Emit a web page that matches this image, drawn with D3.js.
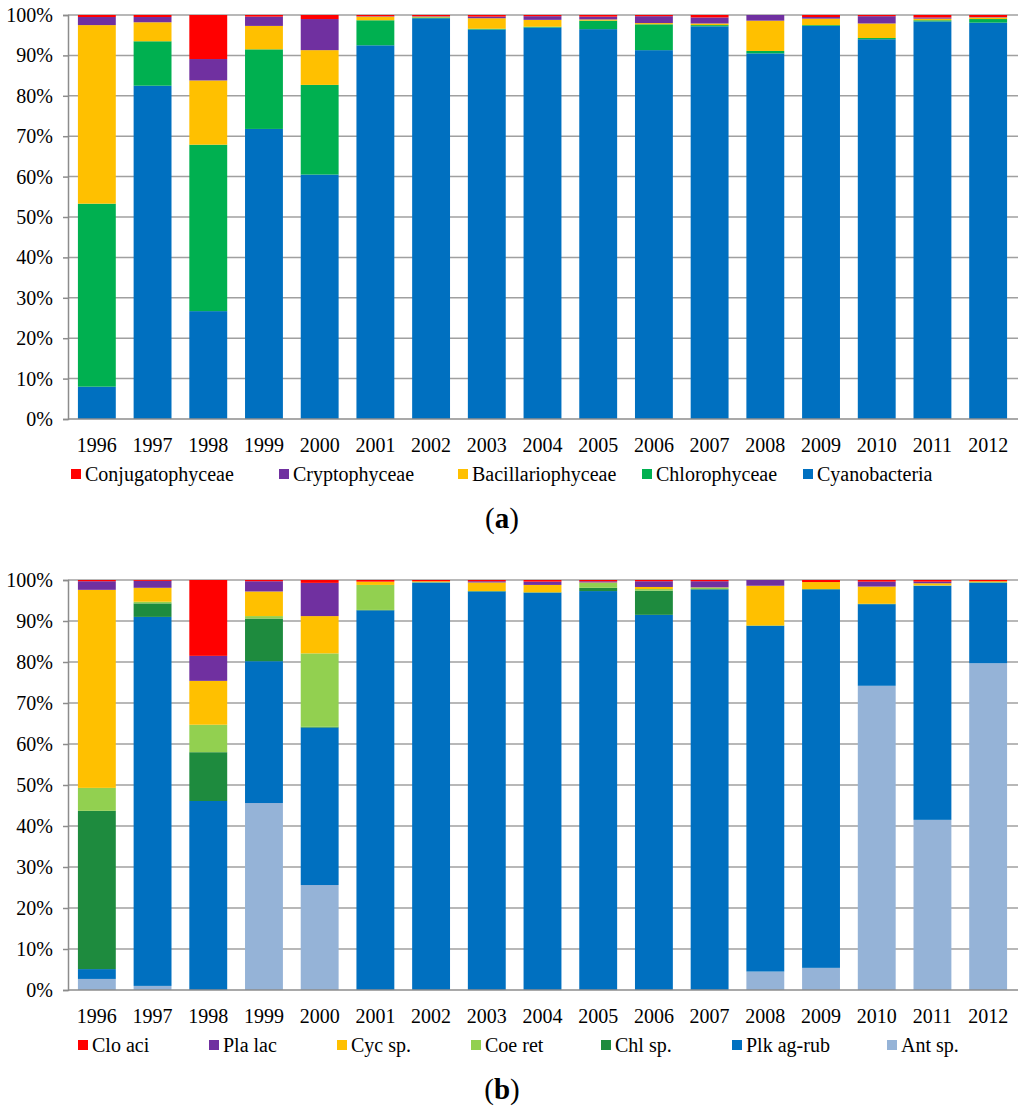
<!DOCTYPE html>
<html>
<head>
<meta charset="utf-8">
<script src="https://cdn.jsdelivr.net/npm/d3@7/dist/d3.min.js"></script>
</head>
<body style="margin:0; background:#fff">
<div id="chart"></div>
<script>
var WD = 1024, HT = 1107
var FONT = "'Liberation Serif'"

var years = ['1996','1997','1998','1999','2000','2001','2002','2003','2004','2005','2006','2007','2008','2009','2010','2011','2012']
var yTicks = [0, 0.1, 0.2, 0.3, 0.4, 0.5, 0.6, 0.7, 0.8, 0.9, 1]

// panel (a): classes, bottom to top
var cyanoA  = [8.0, 82.5, 26.7, 71.8, 60.5, 92.5, 99.2, 96.4, 96.9, 96.5, 91.3, 97.2, 90.5, 97.3, 94.0, 98.4, 98.1]
var chloroA = [45.3, 11.0, 41.2, 19.7, 22.2, 6.2, 0.2, 0.2, 0.2, 2.1, 6.4, 0.3, 0.6, 0.2, 0.3, 0.3, 0.9]
var bacilA  = [44.2, 4.7, 15.9, 5.8, 8.6, 0.9, 0.2, 2.6, 1.7, 0.3, 0.3, 0.4, 7.5, 1.6, 3.6, 0.4, 0.4]
var cryptA  = [2.0, 1.3, 5.3, 2.3, 7.7, 0.1, 0.1, 0.4, 0.9, 0.7, 1.7, 1.5, 1.4, 0.4, 1.8, 0.3, 0.1]
var conjA   = [0.5, 0.5, 10.9, 0.4, 1.0, 0.3, 0.3, 0.4, 0.3, 0.4, 0.3, 0.6, 0.0, 0.5, 0.3, 0.6, 0.5]
var namesA  = ['Cyanobacteria','Chlorophyceae','Bacillariophyceae','Cryptophyceae','Conjugatophyceae']
var colorsA = ['#0070C0','#00B050','#FFC000','#7030A0','#FF0000']

// panel (b): species, bottom to top
var antB = [2.7, 1.0, 0.0, 45.6, 25.6, 0.0, 0.0, 0.0, 0.0, 0.0, 0.0, 0.0, 4.5, 5.4, 74.2, 41.5, 79.7]
var plkB = [2.4, 90.0, 46.1, 34.6, 38.4, 92.6, 99.4, 97.2, 96.9, 97.3, 91.5, 97.7, 84.3, 92.3, 19.9, 57.1, 19.6]
var chlB = [38.6, 3.3, 11.9, 10.4, 0.2, 0.1, 0.0, 0.1, 0.1, 0.8, 5.9, 0.1, 0.1, 0.1, 0.1, 0.0, 0.1]
var coeB = [5.6, 0.4, 6.7, 0.6, 17.9, 6.1, 0.1, 0.0, 0.0, 1.2, 0.4, 0.3, 0.0, 0.0, 0.0, 0.1, 0.1]
var cycB = [48.3, 3.4, 10.7, 6.0, 9.1, 0.8, 0.2, 2.1, 1.8, 0.1, 0.5, 0.1, 9.7, 1.7, 4.2, 0.5, 0.2]
var plaB = [2.1, 1.7, 6.1, 2.5, 8.1, 0.0, 0.0, 0.3, 0.8, 0.3, 1.4, 1.5, 1.4, 0.0, 1.2, 0.4, 0.0]
var cloB = [0.3, 0.2, 18.5, 0.3, 0.7, 0.4, 0.3, 0.3, 0.4, 0.3, 0.3, 0.3, 0.0, 0.5, 0.4, 0.4, 0.3]
var namesB  = ['Ant sp.','Plk ag-rub','Chl sp.','Coe ret','Cyc sp.','Pla lac','Clo aci']
var colorsB = ['#95B3D7','#0070C0','#1E8B3E','#92D050','#FFC000','#7030A0','#FF0000']

var svg = d3.select("#chart").append("svg")
    .attr("width", WD)
    .attr("height", HT)

var x = d3.scaleBand().domain(years).range([69, 1016]).paddingInner(0.32).paddingOuter(0.16)

function drawPanel(series, names, colors, top, bottom, legendX, label) {
    var rows = years.map(function(yr, i){
        var r = { year: yr }
        names.forEach(function(n, k){ r[n] = series[k][i] })
        return r
    })
    var stack = d3.stack().keys(names).offset(d3.stackOffsetExpand)
    var layers = stack(rows)

    var y = d3.scaleLinear().domain([0, 1]).range([bottom, top])
    var g = svg.append("g")

    // gridlines
    g.selectAll(".grid")
      .data(yTicks.slice(1))
      .enter()
      .append("line")
        .attr("x1", 68).attr("x2", 1018)
        .attr("y1", function(d){ return y(d) }).attr("y2", function(d){ return y(d) })
        .attr("stroke", "#a0a0a0")
        .attr("stroke-width", 1.5)

    // y axis
    var yAxis = d3.axisLeft(y).tickValues(yTicks).tickFormat(d3.format(".0%")).tickSize(5).tickPadding(10)
    var ya = g.append("g").attr("transform", "translate(68,0)").call(yAxis)
    ya.select(".domain").attr("stroke", "#8c8c8c").attr("stroke-width", 1.5)
    ya.selectAll(".tick line").attr("stroke", "#8c8c8c").attr("stroke-width", 1.5)
    ya.selectAll("text")
        .style("font-family", FONT)
        .style("font-size", "20px")
        .attr("fill", "#000")

    // bars
    g.selectAll(".layer")
      .data(layers)
      .enter()
      .append("g")
        .attr("fill", function(d, i){ return colors[i] })
      .selectAll("rect")
      .data(function(d){ return d })
      .enter()
      .append("rect")
        .attr("x", function(d){ return x(d.data.year) })
        .attr("width", x.bandwidth())
        .attr("y", function(d){ return y(d[1]) })
        .attr("height", function(d){ return Math.max(0, y(d[0]) - y(d[1])) })

    // x axis line
    g.append("line")
        .attr("x1", 68).attr("x2", 1018)
        .attr("y1", bottom).attr("y2", bottom)
        .attr("stroke", "#8c8c8c")
        .attr("stroke-width", 1.5)

    // year labels
    g.selectAll(".yr")
      .data(years)
      .enter()
      .append("text")
        .attr("x", function(d){ return x(d) + x.bandwidth() / 2 })
        .attr("y", bottom + 33)
        .attr("text-anchor", "middle")
        .style("font-family", FONT)
        .style("font-size", "20px")
        .text(function(d){ return d })

    // legend (reverse order, top of stack first)
    var legendNames = names.slice().reverse()
    var legendColors = colors.slice().reverse()
    var lg = g.selectAll(".lg")
      .data(legendNames)
      .enter()
      .append("g")
        .attr("transform", function(d, i){ return "translate(" + legendX[i] + "," + (bottom + 50) + ")" })
    lg.append("rect")
        .attr("width", 10).attr("height", 10)
        .attr("y", 0)
        .attr("fill", function(d, i){ return legendColors[i] })
    lg.append("text")
        .attr("x", 14)
        .attr("y", 12)
        .style("font-family", FONT)
        .style("font-size", "20px")
        .text(function(d){ return d })

    // panel label
    var t = g.append("text")
        .attr("x", 502)
        .attr("y", bottom + 109)
        .attr("text-anchor", "middle")
        .style("font-family", FONT)
        .style("font-size", "29px")
    t.append("tspan").text("(")
    t.append("tspan").style("font-weight", "bold").text(label)
    t.append("tspan").text(")")
}

drawPanel([cyanoA, chloroA, bacilA, cryptA, conjA], namesA, colorsA, 15, 419,
          [71, 279, 458, 642, 803], "a")
drawPanel([antB, plkB, chlB, coeB, cycB, plaB, cloB], namesB, colorsB, 580, 990,
          [78, 209, 337, 471, 601, 732, 887], "b")
</script>
</body>
</html>
